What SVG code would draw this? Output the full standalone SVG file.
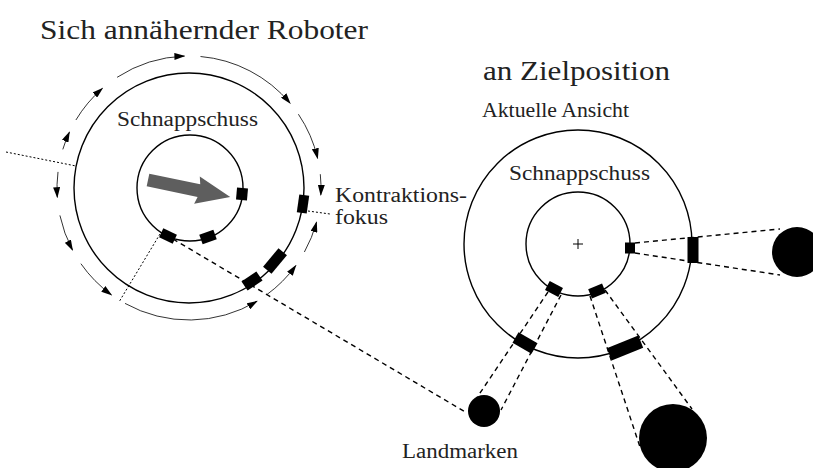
<svg xmlns="http://www.w3.org/2000/svg" width="813" height="468" viewBox="0 0 813 468">
  <style>
    text { font-family: "Liberation Serif", "DejaVu Serif", serif; fill: #222; }
    .title { font-size: 27px; }
    .label { font-size: 20px; }
    .ring { fill: none; stroke: #000; stroke-width: 1.4; }
    .flow { fill: none; stroke: #000; stroke-width: 0.8; marker-end: url(#tip); }
    .dots { fill: none; stroke: #000; stroke-width: 1; stroke-dasharray: 2 2; }
    .dash { fill: none; stroke: #000; stroke-width: 1.4; stroke-dasharray: 5 4; }
    .mark { fill: #000; }
    .land { fill: #000; }
  </style>
  <defs>
    <marker id="tip" viewBox="0 0 11 7" refX="10" refY="3.5" markerWidth="11" markerHeight="7" markerUnits="userSpaceOnUse" orient="auto">
      <path d="M0,0 L11,3.5 L0,7 Z" fill="#000"/>
    </marker>
  </defs>

  <rect width="813" height="468" fill="#fff"/>

  <!-- captions -->
  <text class="title" x="40" y="39" textLength="328" lengthAdjust="spacingAndGlyphs">Sich annähernder Roboter</text>
  <text class="title" x="483" y="80" textLength="187" lengthAdjust="spacingAndGlyphs">an Zielposition</text>
  <text class="label" x="482" y="117" font-size="19" textLength="147" lengthAdjust="spacingAndGlyphs">Aktuelle Ansicht</text>

  <!-- approaching robot view -->
  <g id="robot-view">
    <circle class="ring" cx="189" cy="188" r="115"/>
    <circle class="ring" cx="190" cy="188" r="53"/>
    <text class="label" x="117" y="126" textLength="141" lengthAdjust="spacingAndGlyphs">Schnappschuss</text>
    <!-- heading arrow -->
    <polygon fill="#5e5e5e" transform="translate(148,180) rotate(11.7)" points="0,-6.5 52,-6.5 50,-14 84,0 50,14 52,6.5 0,6.5"/>
    <!-- snapshot marks on the inner ring -->
    <rect class="mark" x="-5.5" y="-6" width="11" height="12" transform="translate(242,194) rotate(5)"/>
    <rect class="mark" x="-7.5" y="-5" width="15" height="10" transform="translate(168,236) rotate(25)"/>
    <rect class="mark" x="-7.5" y="-5" width="15" height="10" transform="translate(208,237) rotate(-20)"/>
    <!-- current marks on the outer ring -->
    <rect class="mark" x="-5" y="-9" width="10" height="18" transform="translate(303,204) rotate(8)"/>
    <rect class="mark" x="-12" y="-5.5" width="24" height="11" transform="translate(275,261) rotate(-50)"/>
    <rect class="mark" x="-9" y="-5.5" width="18" height="11" transform="translate(252,281) rotate(-34)"/>
    <text class="label" x="335" y="202" textLength="132" lengthAdjust="spacingAndGlyphs">Kontraktions-</text>
    <text class="label" x="335" y="224" textLength="53" lengthAdjust="spacingAndGlyphs">fokus</text>
  </g>

  <!-- goal position view -->
  <g id="goal-view">
    <circle class="ring" cx="578" cy="244" r="114"/>
    <circle class="ring" cx="578" cy="244" r="52"/>
    <path d="M573,244 H583 M578,239 V249" stroke="#000" stroke-width="1"/>
    <text class="label" x="509" y="180" textLength="141" lengthAdjust="spacingAndGlyphs">Schnappschuss</text>
    <rect class="mark" x="-5" y="-5.5" width="10" height="11" transform="translate(630,248)"/>
    <rect class="mark" x="-7.5" y="-5" width="15" height="10" transform="translate(554,289) rotate(28)"/>
    <rect class="mark" x="-7.5" y="-5" width="15" height="10" transform="translate(597,291) rotate(-22)"/>
    <rect class="mark" x="-5.5" y="-13" width="11" height="26" transform="translate(693,250)"/>
    <rect class="mark" x="-11" y="-6" width="22" height="12" transform="translate(525,343) rotate(30)"/>
    <rect class="mark" x="-17" y="-6.5" width="34" height="13" transform="translate(625,348) rotate(-22)"/>
  </g>

  <!-- landmarks -->
  <g id="landmarks">
    <circle class="land" cx="484" cy="411" r="16"/>
    <circle class="land" cx="673" cy="438" r="34"/>
    <circle class="land" cx="797" cy="252" r="25"/>
    <text class="label" x="402" y="458" textLength="116" lengthAdjust="spacingAndGlyphs">Landmarken</text>
  </g>

  <!-- connectors -->
  <g id="connectors">
    <!-- image flow around the robot -->
    <path class="flow" d="M62.8,149.4 A132,132 0 0 1 69.4,132.2"/>
    <path class="flow" d="M75.9,120.0 A132,132 0 0 1 102.4,88.4"/>
    <path class="flow" d="M117.1,77.3 A132,132 0 0 1 184.4,56.1"/>
    <path class="flow" d="M200.5,56.5 A132,132 0 0 1 290.1,103.2"/>
    <path class="flow" d="M298.4,114.2 A132,132 0 0 1 317.6,158.3"/>
    <path class="flow" d="M320.3,174.2 A132,132 0 0 1 320.8,194.9"/>
    <path class="flow" d="M304.4,252.0 A132,132 0 0 0 316.5,222.2"/>
    <path class="flow" d="M266.6,294.8 A132,132 0 0 0 295.8,265.6"/>
    <path class="flow" d="M125.0,303.4 A132,132 0 0 0 257.0,301.2"/>
    <path class="flow" d="M80.9,263.7 A132,132 0 0 0 111.4,294.8"/>
    <path class="flow" d="M59.9,215.4 A132,132 0 0 0 72.5,250.0"/>
    <path class="flow" d="M58.0,171.9 A132,132 0 0 0 57.3,197.2"/>
    <!-- sight lines -->
    <path class="dots" d="M6,152 L76,166"/>
    <path class="dots" d="M160,234 L119,302"/>
    <path class="dots" d="M308,211 L330,214"/>
    <path class="dash" d="M173,239 L467,413"/>
    <path class="dash" d="M635,243 L780,229"/>
    <path class="dash" d="M635,253 L780,275"/>
    <path class="dash" d="M548,292 L476,399"/>
    <path class="dash" d="M561,295 L501,410"/>
    <path class="dash" d="M590,296 L640,447"/>
    <path class="dash" d="M605,290 L692,409"/>
  </g>
</svg>
